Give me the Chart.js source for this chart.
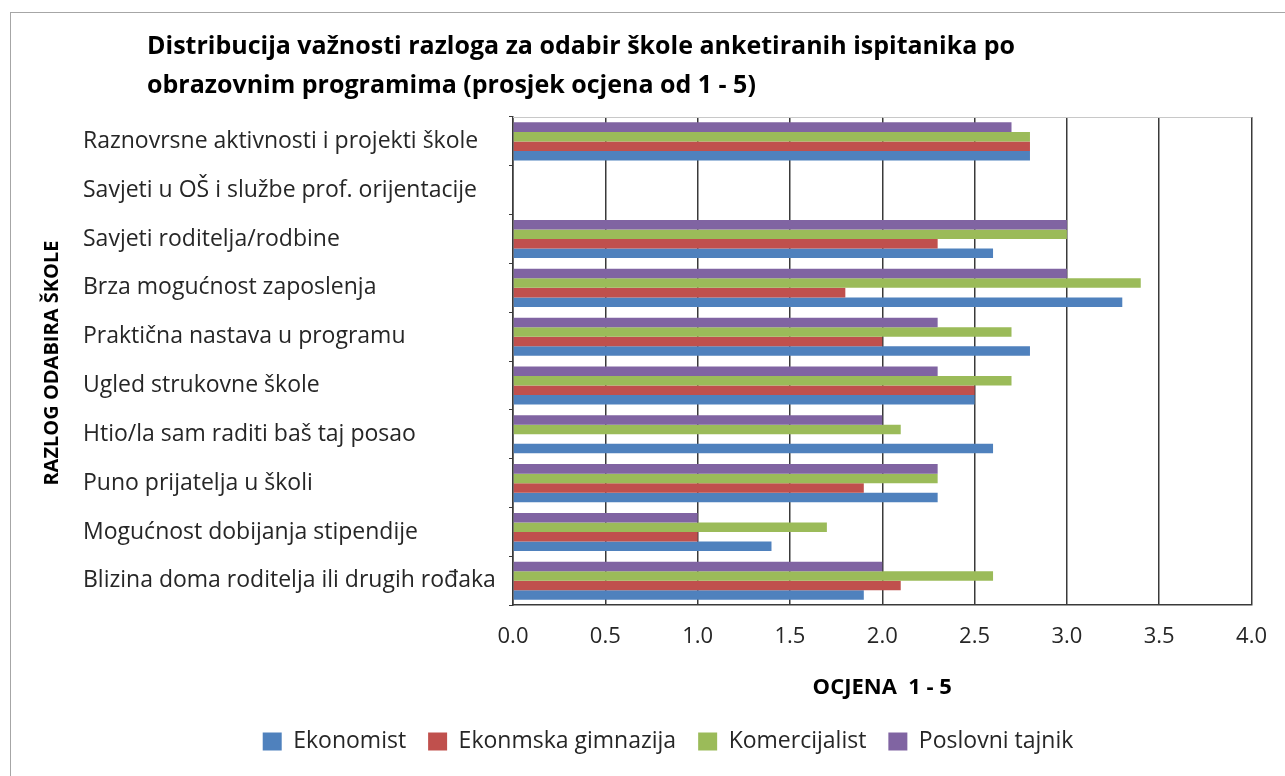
<!DOCTYPE html>
<html lang="hr">
<head>
<meta charset="utf-8">
<title>Distribucija važnosti razloga za odabir škole</title>
<script src="https://cdn.jsdelivr.net/npm/chart.js@4/dist/chart.umd.min.js"></script>
<style>
  html, body { margin: 0; padding: 0; background: #fff; overflow: hidden; }
  #frame { position: absolute; left: 10px; top: 12px; width: 1300px; height: 800px;
    border: 1px solid #a6a6a6; box-sizing: border-box; }
  #wrap { position: absolute; left: 0; top: 0; width: 1285px; height: 776px; }
</style>
</head>
<body>
<div id="frame"></div>
<div id="wrap"><canvas id="chart"></canvas></div>
<script>
// categories, top to bottom as in the reference
const categories = [
  "Raznovrsne aktivnosti i projekti škole",
  "Savjeti u OŠ i službe prof. orijentacije",
  "Savjeti roditelja/rodbine",
  "Brza mogućnost zaposlenja",
  "Praktična nastava u programu",
  "Ugled strukovne škole",
  "Htio/la sam raditi baš taj posao",
  "Puno prijatelja u školi",
  "Mogućnost dobijanja stipendije",
  "Blizina doma roditelja ili drugih rođaka"
];
const ekonomist   = [2.8, null, 2.6, 3.3, 2.8, 2.5, 2.6, 2.3, 1.4, 1.9];
const gimnazija   = [2.8, null, 2.3, 1.8, 2.0, 2.5, null, 1.9, 1.0, 2.1];
const komercijal  = [2.8, null, 3.0, 3.4, 2.7, 2.7, 2.1, 2.3, 1.7, 2.6];
const tajnik      = [2.7, null, 3.0, 3.0, 2.3, 2.3, 2.0, 2.3, 1.0, 2.0];
const xTicks = [0, 0.5, 1, 1.5, 2, 2.5, 3, 3.5, 4];

const FONT = "'Open Sans', 'Noto Sans', sans-serif";
const TXT = "#262626";

// Excel draws the series bottom-up inside a group, so datasets go top-down here
// and the legend is reversed back to Ekonomist first.
const series = [
  { label: "Poslovni tajnik", data: tajnik, color: "#8064A2" },
  { label: "Komercijalist", data: komercijal, color: "#9BBB59" },
  { label: "Ekonmska gimnazija", data: gimnazija, color: "#C0504D" },
  { label: "Ekonomist", data: ekonomist, color: "#4F81BD" }
];

const extras = {
  id: "extras",
  afterLayout(c) {
    // title starts further right than the plot padding
    if (c.titleBlock) c.titleBlock.left = 147;
  },
  beforeDatasetsDraw(c) {
    const a = c.chartArea, ctx = c.ctx;
    ctx.save();
    ctx.strokeStyle = "#c8c8c8";
    ctx.lineWidth = 1;
    ctx.beginPath();
    ctx.moveTo(a.left, a.top + 0.5);
    ctx.lineTo(a.right, a.top + 0.5);
    ctx.stroke();
    ctx.restore();
  },
  afterDraw(c) {
    const a = c.chartArea, ctx = c.ctx;
    ctx.save();
    ctx.translate(52, (a.top + a.bottom) / 2 + 2);
    ctx.rotate(-Math.PI / 2);
    ctx.font = "bold 20px " + FONT;
    ctx.fillStyle = "#000";
    ctx.textAlign = "center";
    ctx.textBaseline = "middle";
    ctx.fillText("RAZLOG ODABIRA ŠKOLE", 0, 0);
    ctx.restore();
  }
};

new Chart(document.getElementById("chart"), {
  type: "bar",
  data: {
    labels: categories,
    datasets: series.map(s => ({
      label: s.label, data: s.data, backgroundColor: s.color,
      borderWidth: 0, barPercentage: 1.0, categoryPercentage: 0.78
    }))
  },
  options: {
    indexAxis: "y",
    responsive: true,
    maintainAspectRatio: false,
    animation: false,
    layout: { padding: { top: 12, left: 83, right: 32, bottom: 13 } },
    plugins: {
      title: {
        display: true, align: "start", color: "#000",
        text: ["Distribucija važnosti razloga za odabir škole anketiranih ispitanika po",
               "obrazovnim programima (prosjek ocjena od 1 - 5)"],
        font: { family: FONT, size: 25, weight: "bold", lineHeight: 1.56 },
        padding: { top: 15, bottom: 12 }
      },
      legend: {
        position: "bottom", reverse: true,
        labels: { boxWidth: 19, boxHeight: 18, padding: 22, color: TXT,
          font: { family: FONT, size: 23 } }
      },
      tooltip: { enabled: false }
    },
    scales: {
      x: {
        min: 0, max: 4,
        afterBuildTicks: s => { s.ticks = xTicks.map(v => ({ value: v })); },
        ticks: { color: TXT, padding: 18, font: { family: FONT, size: 22 },
          callback: v => Number(v).toFixed(1) },
        grid: { color: "#3a3a3a", lineWidth: 1.5, drawTicks: false },
        border: { color: "#3a3a3a", width: 1.5 },
        title: { display: true, text: "OCJENA  1 - 5", color: "#000",
          font: { family: FONT, size: 22, weight: "bold" }, padding: { top: 7, bottom: 7 } }
      },
      y: {
        afterFit: s => { s.width = 430; },
        ticks: { color: TXT, crossAlign: "far", padding: 8, font: { family: FONT, size: 23 } },
        grid: { display: true, drawOnChartArea: false, drawTicks: true, tickLength: 4, color: "#3a3a3a" },
        border: { color: "#3a3a3a", width: 1.5 }
      }
    }
  },
  plugins: [extras]
});
</script>
</body>
</html>
